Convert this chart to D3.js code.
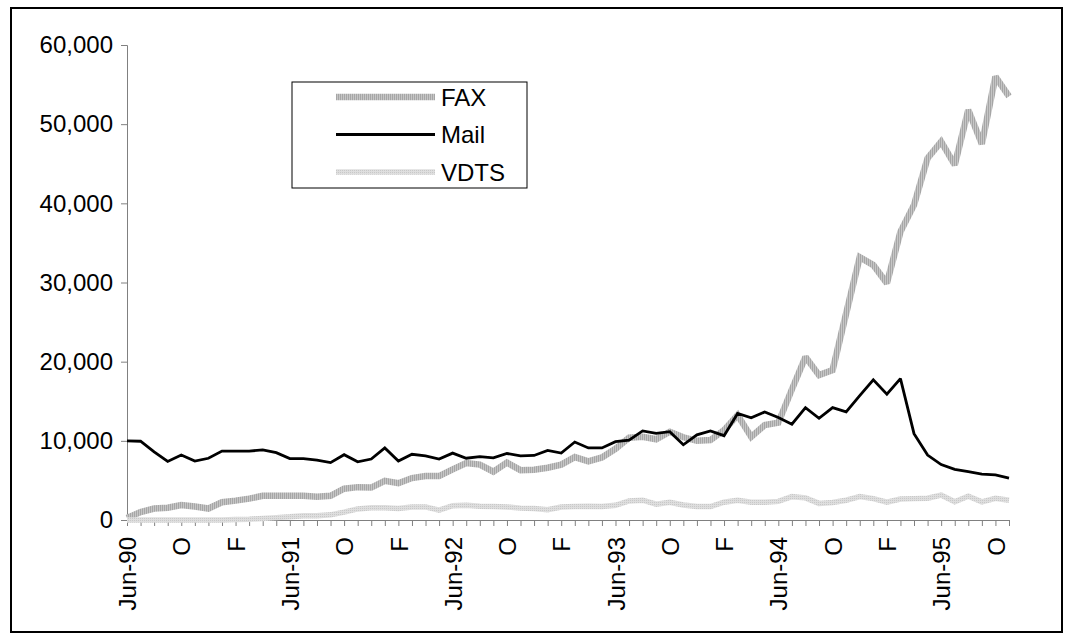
<!DOCTYPE html>
<html>
<head>
<meta charset="utf-8">
<script src="https://cdnjs.cloudflare.com/ajax/libs/d3/7.8.5/d3.min.js"></script>
<style>
  body { margin: 0; background: #fff; }
  svg { display: block; font-family: "Liberation Sans", Arial, sans-serif; }
</style>
</head>
<body>
<svg id="chart" width="1074" height="640"></svg>
<script>
// monthly counts, Jun-90 through Nov-95 (66 months)
var firstMonth = new Date(1990, 5, 1);
var lastMonth = new Date(1995, 10, 1);
var months = d3.timeMonth.range(firstMonth, d3.timeMonth.offset(lastMonth, 1));

var fax = [250, 1000, 1450, 1550, 1900, 1700, 1450, 2250, 2450, 2700, 3050, 3050,
  3050, 3050, 2950, 3050, 3950, 4150, 4100, 4950, 4650, 5300, 5550, 5550,
  6400, 7200, 7000, 6100, 7250, 6300, 6350, 6600, 7000, 7950, 7400, 7900,
  9000, 10400, 10500, 10200, 11150, 10450, 10000, 10100, 11350, 13250, 10500, 12000,
  12300, 16500, 20600, 18300, 18950, 26100, 33200, 32200, 29900, 36400, 39800, 45700,
  47800, 44850, 51800, 47500, 56000, 53500];

var mail = [10000, 9950, 8600, 7400, 8200, 7450, 7800, 8700, 8700, 8700, 8850, 8500,
  7750, 7750, 7550, 7250, 8250, 7350, 7700, 9100, 7450, 8300, 8100, 7700,
  8450, 7800, 8000, 7850, 8400, 8100, 8150, 8800, 8450, 9850, 9100, 9100,
  9900, 10100, 11250, 10950, 11150, 9500, 10750, 11250, 10650, 13450, 12900, 13650,
  12950, 12100, 14200, 12850, 14200, 13650, 15700, 17700, 15900, 17850, 10900, 8200,
  7000, 6400, 6100, 5800, 5700, 5300];

var vdts = [0, 0, 0, 0, 0, 0, 0, 0, 50, 100, 200, 300,
  400, 550, 550, 650, 1000, 1400, 1550, 1550, 1450, 1650, 1650, 1250,
  1800, 1850, 1750, 1700, 1650, 1500, 1450, 1300, 1650, 1700, 1750, 1700,
  1850, 2400, 2500, 2000, 2250, 1900, 1700, 1700, 2250, 2500, 2250, 2250,
  2350, 2950, 2800, 2100, 2200, 2500, 2950, 2700, 2250, 2650, 2700, 2750,
  3150, 2300, 3000, 2300, 2750, 2500];

// a label every 4th month
var tickLabels = ["Jun-90", "O", "F", "Jun-91", "O", "F", "Jun-92", "O", "F",
  "Jun-93", "O", "F", "Jun-94", "O", "F", "Jun-95", "O"];
var yTicks = [0, 10000, 20000, 30000, 40000, 50000, 60000];

var series = [
  {name: "FAX", values: fax, stroke: "url(#pat-fax)", width: 6.5},
  {name: "Mail", values: mail, stroke: "#000", width: 2.8},
  {name: "VDTS", values: vdts, stroke: "url(#pat-vdts)", width: 5.5}
];

var fontSize = 24;
var svg = d3.select("#chart");

// hatched fills like the old spreadsheet line patterns
var defs = svg.append("defs");
var pf = defs.append("pattern").attr("id", "pat-fax")
  .attr("patternUnits", "userSpaceOnUse").attr("width", 2).attr("height", 2);
pf.append("rect").attr("width", 2).attr("height", 2).attr("fill", "#c6c6c6");
pf.append("rect").attr("width", 1).attr("height", 2).attr("fill", "#a6a6a6");
var pv = defs.append("pattern").attr("id", "pat-vdts")
  .attr("patternUnits", "userSpaceOnUse").attr("width", 2).attr("height", 2);
pv.append("rect").attr("width", 2).attr("height", 2).attr("fill", "#dedede");
pv.append("rect").attr("width", 1).attr("height", 1).attr("fill", "#c8c8c8");

// outer frame
svg.append("rect")
  .attr("x", 11).attr("y", 8).attr("width", 1051).attr("height", 624)
  .attr("fill", "none").attr("stroke", "#000").attr("stroke-width", 2);

var x = d3.scaleLinear().domain([0, months.length - 1]).range([127, 1009]);
var y = d3.scaleLinear().domain([0, 60000]).range([520, 45]);

// y axis
var yAxis = svg.append("g")
  .attr("transform", "translate(127,0)")
  .call(d3.axisLeft(y).tickValues(yTicks).tickFormat(d3.format(",")).tickSize(6).tickPadding(8));
yAxis.select(".domain").attr("stroke", "#808080");
yAxis.selectAll(".tick line").attr("stroke", "#808080");
yAxis.selectAll("text").attr("font-size", fontSize).attr("fill", "#000")
  .attr("font-family", "Liberation Sans, Arial, sans-serif");

// x axis, one tick per month
var xAxis = svg.append("g")
  .attr("transform", "translate(0,520)")
  .call(d3.axisBottom(x).tickValues(d3.range(months.length))
    .tickFormat(function(i){ return i % 4 == 0 ? tickLabels[i / 4] : ""; })
    .tickSize(6).tickSizeOuter(0));
xAxis.select(".domain").attr("stroke", "#808080");
xAxis.selectAll(".tick line").attr("stroke", "#808080");
xAxis.selectAll("text")
  .attr("transform", "rotate(-90)")
  .attr("x", -17).attr("y", 0).attr("dy", "0.36em")
  .attr("text-anchor", "end")
  .attr("font-size", fontSize).attr("fill", "#000")
  .attr("font-family", "Liberation Sans, Arial, sans-serif");

// the lines
var line = d3.line()
  .x(function(d, i){ return x(i); })
  .y(function(d){ return y(d); });

series.forEach(function(s){
  svg.append("path")
    .datum(s.values)
    .attr("d", line)
    .attr("fill", "none")
    .attr("stroke", s.stroke)
    .attr("stroke-width", s.width)
    .attr("stroke-linejoin", "miter")
    .attr("stroke-miterlimit", 2);
});

// legend
var lg = svg.append("g");
lg.append("rect")
  .attr("x", 292).attr("y", 82).attr("width", 235).attr("height", 106)
  .attr("fill", "#fff").attr("stroke", "#000").attr("stroke-width", 1);
series.forEach(function(s, i){
  var ly = 97 + i * 37.5;
  lg.append("line")
    .attr("x1", 336).attr("x2", 435).attr("y1", ly).attr("y2", ly)
    .attr("stroke", s.stroke).attr("stroke-width", s.width);
  lg.append("text")
    .attr("x", 441).attr("y", ly).attr("dy", "0.36em")
    .attr("font-size", fontSize).attr("fill", "#000")
    .text(s.name);
});
</script>
</body>
</html>
